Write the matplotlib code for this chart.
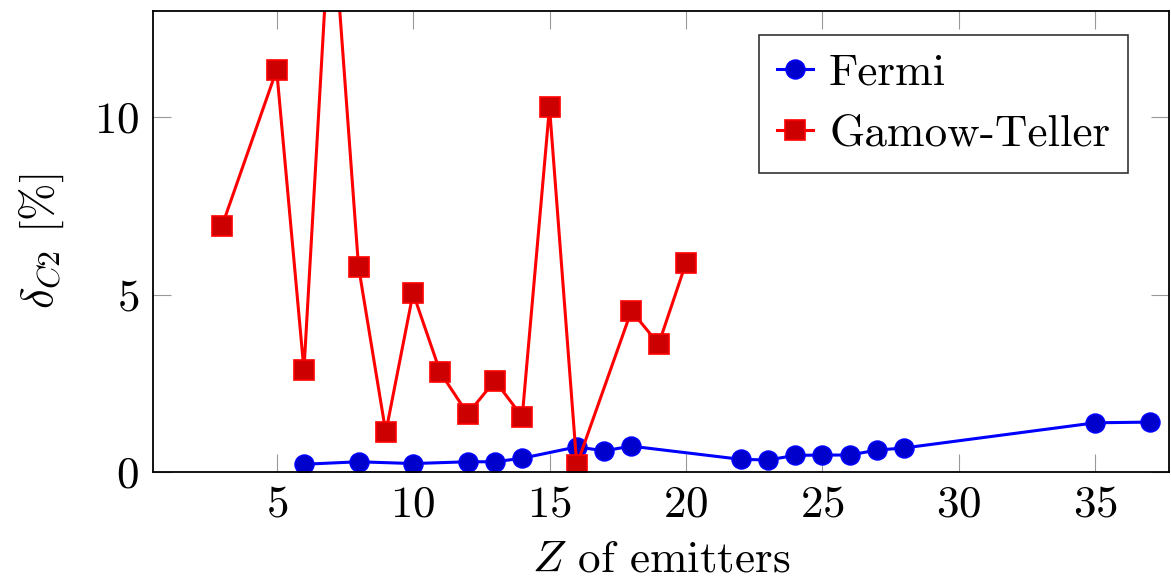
import matplotlib.pyplot as plt

# Data
z_fermi = [6, 8, 10, 12, 13, 14, 16, 17, 18, 22, 23, 24, 25, 26, 27, 28, 35, 37]
d_fermi = [0.21, 0.28, 0.23, 0.28, 0.28, 0.38, 0.70, 0.59, 0.72,
           0.35, 0.33, 0.46, 0.47, 0.47, 0.61, 0.67, 1.38, 1.40]

z_gt = [3, 5, 6, 7, 8, 9, 10, 11, 12, 13, 14, 15, 16, 18, 19, 20]
d_gt = [6.94, 11.34, 2.87, 16.3, 5.79, 1.11, 5.04, 2.80, 1.63, 2.57,
        1.55, 10.29, 0.19, 4.54, 3.60, 5.89]

x_ticks = [5, 10, 15, 20, 25, 30, 35]
y_ticks = [0, 5, 10]

plt.rcParams['font.family'] = 'cmr10'
plt.rcParams['mathtext.fontset'] = 'cm'
plt.rcParams['axes.formatter.use_mathtext'] = True
plt.rcParams['font.size'] = 32.5

fig = plt.figure(figsize=(11.71, 5.84), dpi=100)
ax = fig.add_axes([0.1307, 0.1923, 0.8675, 0.7887])

ax.plot(z_fermi, d_fermi, color='blue', linewidth=2.2, marker='o',
        markersize=13.5, markerfacecolor=(0, 0, 0.8), markeredgecolor='blue',
        markeredgewidth=1.2, label='Fermi')
ax.plot(z_gt, d_gt, color='red', linewidth=2.2, marker='s',
        markersize=14, markerfacecolor=(0.8, 0, 0), markeredgecolor='red',
        markeredgewidth=1.2, label='Gamow-Teller')

ax.set_xlim(0.47, 37.7)
ax.set_ylim(0, 13)
ax.set_xticks(x_ticks)
ax.set_yticks(y_ticks)
ax.tick_params(direction='in', length=13, width=0.8, color='0.6',
               top=True, right=True, pad=10)
for s in ax.spines.values():
    s.set_linewidth(1.3)

ax.set_xlabel(r'$Z$ of emitters', labelpad=11)
ax.set_ylabel(r'$\delta_{C2}$ [%]', labelpad=20)

leg = ax.legend(loc='upper right', bbox_to_anchor=(0.960, 0.948),
                frameon=True, fancybox=False, edgecolor='black',
                handlelength=0.8, handletextpad=0.35, labelspacing=0.45,
                borderpad=0.4, borderaxespad=0)
leg.get_frame().set_linewidth(1.2)

plt.savefig('out.png', dpi=100)
